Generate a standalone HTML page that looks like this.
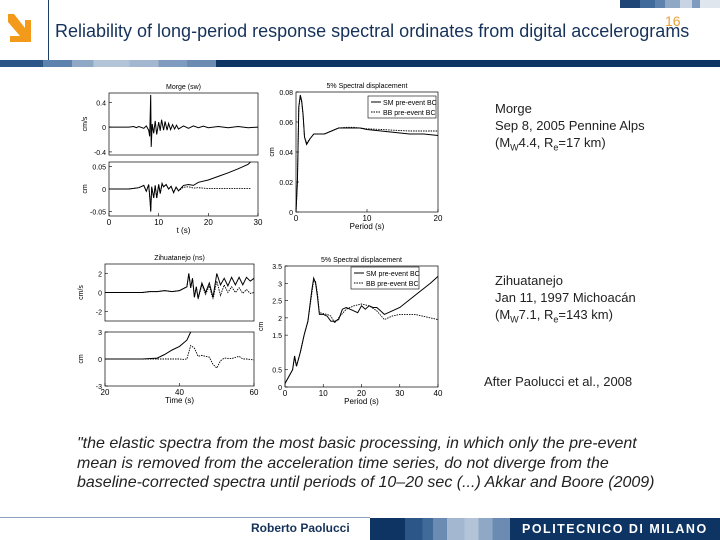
<!DOCTYPE html>
<html><head><meta charset="utf-8"><style>
body{margin:0;width:720px;height:540px;overflow:hidden;background:#fff;font-family:"Liberation Sans",sans-serif;position:relative}
.t{position:absolute;white-space:nowrap}
</style></head><body>
<div style="position:absolute;left:620px;top:0;width:100px;height:8px;background:linear-gradient(90deg,#1f4577 0 20%,#3f6a9a 20% 35%,#5d82ad 35% 45%,#8ea8c6 45% 60%,#c8d4e3 60% 72%,#7f9cc0 72% 80%,#dfe6ee 80% 100%)"></div>
<svg style="position:absolute;left:8px;top:14px" width="24" height="30" viewBox="0 0 24 30"><polygon points="0,0 6,0 17,14 17,6 23,6 23,28 2,28 2,22 12,22 0,8" fill="#f39a1b"/></svg>
<div style="position:absolute;left:48px;top:0;width:1px;height:60px;background:#1f3f6b"></div>
<div class="t" style="left:55px;top:21px;font-size:18px;color:#16325a">Reliability of long-period response spectral ordinates from digital accelerograms</div>
<div class="t" style="left:665px;top:13px;font-size:14px;color:#e8a23a">16</div>
<div style="position:absolute;left:0;top:60px;width:720px;height:7px;background:linear-gradient(90deg,#2b5687 0 6%,#5d82ad 6% 10%,#8ea8c6 10% 13%,#b4c4d8 13% 18%,#a3b8d0 18% 22%,#7f9cc0 22% 26%,#6b8bb3 26% 30%,#0d3463 30% 100%)"></div>

<svg id="ch" style="position:absolute;left:0;top:0" width="720" height="540" font-family="Liberation Sans, sans-serif" font-size="8" fill="#000"></svg>

<div class="t" style="left:495px;top:100px;font-size:13px;line-height:17px;color:#222">Morge<br>Sep 8, 2005 Pennine Alps<br>(M<sub style="font-size:9px">W</sub>4.4, R<sub style="font-size:9px">e</sub>=17 km)</div>
<div class="t" style="left:495px;top:272px;font-size:13px;line-height:17px;color:#222">Zihuatanejo<br>Jan 11, 1997 Michoacán<br>(M<sub style="font-size:9px">W</sub>7.1, R<sub style="font-size:9px">e</sub>=143 km)</div>
<div class="t" style="left:484px;top:374px;font-size:13px;color:#222">After Paolucci et al., 2008</div>
<div class="t" style="left:77px;top:434px;font-size:16px;line-height:19.5px;font-style:italic;color:#222">"the elastic spectra from the most basic processing, in which only the pre-event<br>mean is removed from the acceleration time series, do not diverge from the<br>baseline-corrected spectra until periods of 10–20 sec (...) Akkar and Boore (2009)</div>

<div style="position:absolute;left:0;top:517px;width:370px;height:1px;background:#8aa0bb"></div>
<div class="t" style="left:251px;top:521px;font-size:12px;font-weight:bold;color:#16325a">Roberto Paolucci</div>
<div style="position:absolute;left:370px;top:518px;width:350px;height:22px;background:linear-gradient(90deg,#0d3463 0 10%,#2b5687 10% 15%,#3f6a9a 15% 18%,#6b8bb3 18% 22%,#a3b8d0 22% 27%,#b4c4d8 27% 31%,#8ea8c6 31% 35%,#6b8bb3 35% 40%,#0d3463 40% 100%)"></div>
<div class="t" style="left:522px;top:522px;font-size:12.5px;font-weight:bold;color:#fff;letter-spacing:1.5px">POLITECNICO DI MILANO</div>

<script>
// ---- data ----
const morgeVelT=[0,4,5,5.5,6,7,7.5,8,8.2,8.4,8.5,8.7,9,9.3,9.6,10,10.3,10.6,11,11.3,11.7,12,12.4,12.8,13.2,13.6,14,15,16,17,18,19,20,22,24,26,28,30];
const morgeVel=[0,0,0.01,-0.01,0.01,-0.02,0.02,-0.05,-0.15,0.52,-0.32,0.05,-0.1,0.1,-0.12,0.08,-0.06,0.12,-0.05,0.09,-0.05,0.06,-0.04,0.04,-0.03,0.03,-0.03,0.02,-0.02,0.02,-0.01,0.015,-0.01,0.01,-0.01,0.01,-0.01,0];
const morgeDispT=[0,4,6,7,7.5,8,8.3,8.4,8.6,9,9.3,9.6,10,10.3,10.7,11,11.5,12,12.5,13,13.5,14,15,16,17,18,20,22,24,26,28,28.5];
const morgeDispSM=[0,0,0.003,0.008,-0.005,0.01,-0.03,-0.05,0.005,-0.02,0.008,-0.02,0.01,-0.01,0.012,0.005,0.01,0,0.006,-0.008,0.004,-0.004,0.008,0.01,0.008,0.015,0.02,0.028,0.036,0.045,0.055,0.06];
const morgeDispBB=[0,0,0.003,0.008,-0.005,0.01,-0.03,-0.05,0.005,-0.02,0.008,-0.02,0.01,-0.01,0.012,0.005,0.01,0,0.006,-0.008,0.004,-0.004,0.004,0.005,0.002,0.003,0.001,0.001,0.001,0.001,0.001,0.001];
const morgeSpecP=[0,0.2,0.4,0.6,0.8,1,1.2,1.5,2,2.5,3,4,5,6,7,8,9,10,12,14,16,18,20];
const morgeSpecSM=[0,0.02,0.07,0.078,0.074,0.065,0.05,0.045,0.049,0.052,0.052,0.052,0.054,0.056,0.056,0.056,0.056,0.055,0.054,0.053,0.052,0.052,0.051];
const morgeSpecBB=[0,0.02,0.07,0.077,0.073,0.064,0.05,0.046,0.049,0.052,0.052,0.052,0.054,0.056,0.0565,0.0565,0.056,0.0555,0.055,0.0545,0.054,0.054,0.054];
const zihVelT=[20,30,32,34,36,38,40,42,42.5,43,43.5,44,44.5,45,46,47,48,49,50,51,52,53,54,55,56,57,58,59,60];
const zihVelSM=[0,0,0.1,0.1,0.2,0.1,0.2,0.6,2.0,0.5,1.5,-0.5,0.6,-0.6,1.0,0,1.0,-0.5,2.0,0.8,1.5,0.7,1.6,0.8,1.6,0.8,1.6,1.2,1.5];
const zihVelBB=[0,0,0.1,0.1,0.2,0.1,0.2,0.6,2.0,0.5,1.5,-0.5,0.6,-0.7,0.8,-0.2,0.7,-0.7,1.2,-0.3,0.8,0,0.6,0,0.5,-0.1,0.3,-0.1,0];
const zihDispSMT=[20,30,34,36,38,40,42,43];
const zihDispSM=[0,0,0.1,0.5,1.0,1.4,2.1,3];
const zihDispBBT=[20,30,36,40,41,42,43,44,45,46,47,48,49,50,51,52,54,56,57,58,60];
const zihDispBB=[0,0,0,0,-0.05,0,1.5,1.2,0.3,0.4,0.3,0.2,-0.6,-1,-0.2,0.1,0.05,0.3,0,0,-0.1];
const zihSpecSMP=[0,1,2,2.5,3,4,5,6,7,7.5,8,8.5,9,10,11,12,13,14,15,16,17,18,19,20,21,22,23,24,25,26,28,30,34,38,40];
const zihSpecSM=[0.1,0.3,0.5,0.9,0.6,1.0,1.5,1.9,2.8,3.15,3.0,2.6,2.1,2.1,2.05,1.9,1.9,1.95,2.25,2.3,2.25,2.2,2.15,2.35,2.25,2.35,2.3,2.3,2.2,2.1,2.2,2.3,2.65,3.0,3.2];
const zihSpecBBP=[0,1,2,2.5,3,4,5,6,7,7.5,8,8.5,9,11,12,13,14,16,18,20,22,24,26,28,30,34,38,40];
const zihSpecBB=[0.1,0.3,0.5,0.85,0.6,1.0,1.5,1.9,2.7,3.1,3.05,2.7,2.15,2.1,2.05,1.85,2.0,2.25,2.35,2.4,2.35,2.2,1.95,2.05,2.1,2.1,2.0,1.95];

const svg=document.getElementById('ch');const NS='http://www.w3.org/2000/svg';
function el(t,a,p){const e=document.createElementNS(NS,t);for(const k in a)e.setAttribute(k,a[k]);(p||svg).appendChild(e);return e;}
function panel(name,x0,x1,y0,y1,xd,yd,xt,yt,xlab,ylab,title){
  const g=el('g',{});
  
  
  const sx=v=>x0+(v-xd[0])/(xd[1]-xd[0])*(x1-x0);
  const sy=v=>y1-(v-yd[0])/(yd[1]-yd[0])*(y1-y0);
  el('rect',{x:x0,y:y0,width:x1-x0,height:y1-y0,fill:'none',stroke:'#000','stroke-width':0.7},g);
  yt.forEach(v=>{const y=sy(v);el('line',{x1:x0,x2:x0+3,y1:y,y2:y,stroke:'#000','stroke-width':0.6},g);const t=el('text',{x:x0-3,y:y+3,'text-anchor':'end','font-size':7},g);t.textContent=v;});
  if(xt)xt.forEach(v=>{const x=sx(v);el('line',{x1:x,x2:x,y1:y1,y2:y1-3,stroke:'#000','stroke-width':0.6},g);const t=el('text',{x:x,y:y1+9,'text-anchor':'middle','font-size':8},g);t.textContent=v;});
  if(xlab){const t=el('text',{x:(x0+x1)/2,y:y1+17,'text-anchor':'middle','font-size':8},g);t.textContent=xlab;}
  if(ylab){const t=el('text',{x:x0-22,y:(y0+y1)/2,'text-anchor':'middle','font-size':7,transform:`rotate(-90 ${x0-22} ${(y0+y1)/2})`},g);t.textContent=ylab;}
  if(title){const t=el('text',{x:(x0+x1)/2,y:y0-4,'text-anchor':'middle','font-size':7},g);t.textContent=title;}
  return {g,sx,sy};
}
function line(p,xs,ys,name,dash){
  const d=xs.map((x,i)=>(i?'L':'M')+p.sx(x).toFixed(1)+','+p.sy(ys[i]).toFixed(1)).join('');
  const e=el('path',{d:d,fill:'none',stroke:'#000','stroke-width':dash?0.9:1,'stroke-dasharray':dash?'1.5,1':'none'},p.g);
  
  
}
function legend(x,y,name){
  const g=el('g',{});
  
  
  el('rect',{x:x,y:y,width:68,height:22,fill:'#fff',stroke:'#000','stroke-width':0.6},g);
  el('line',{x1:x+3,x2:x+13,y1:y+6,y2:y+6,stroke:'#000','stroke-width':1},g);
  el('line',{x1:x+3,x2:x+13,y1:y+16,y2:y+16,stroke:'#000','stroke-width':1,'stroke-dasharray':'1.5,1'},g);
  let t=el('text',{x:x+15,y:y+9,'font-size':7},g);t.textContent='SM pre-event BC';
  t=el('text',{x:x+15,y:y+19,'font-size':7},g);t.textContent='BB pre-event BC';
}
// Morge
let p=panel('morge-velocity-panel',109,258,93,155,[0,30],[-0.45,0.55],null,[0.4,0,-0.4],null,'cm/s','Morge (sw)');
line(p,morgeVelT,morgeVel,'morge-velocity-line');
p=panel('morge-displacement-panel',109,258,162,216,[0,30],[-0.06,0.06],[0,10,20,30],[0.05,0,-0.05],'t (s)','cm');
line(p,morgeDispT,morgeDispBB,'morge-disp-bb',true);line(p,morgeDispT,morgeDispSM,'morge-disp-sm');
p=panel('morge-spectrum-panel',296,438,92,212,[0,20],[0,0.08],[0,10,20],[0.08,0.06,0.04,0.02,0],'Period (s)','cm','5% Spectral displacement');
line(p,morgeSpecP,morgeSpecBB,'morge-spec-bb',true);line(p,morgeSpecP,morgeSpecSM,'morge-spec-sm');
legend(368,96,'morge-legend');
// Zihuatanejo
p=panel('zih-velocity-panel',105,254,264,321,[20,60],[-3,3],null,[2,0,-2],null,'cm/s','Zihuatanejo (ns)');
line(p,zihVelT,zihVelBB,'zih-vel-bb',true);line(p,zihVelT,zihVelSM,'zih-vel-sm');
p=panel('zih-displacement-panel',105,254,332,386,[20,60],[-3,3],[20,40,60],[3,0,-3],'Time (s)','cm');
line(p,zihDispBBT,zihDispBB,'zih-disp-bb',true);line(p,zihDispSMT,zihDispSM,'zih-disp-sm');
p=panel('zih-spectrum-panel',285,438,266,387,[0,40],[0,3.5],[0,10,20,30,40],[3.5,3,2.5,2,1.5,0.5,0],'Period (s)','cm','5% Spectral displacement');
line(p,zihSpecBBP,zihSpecBB,'zih-spec-bb',true);line(p,zihSpecSMP,zihSpecSM,'zih-spec-sm');
legend(351,267,'zih-legend');
</script>
</body></html>
